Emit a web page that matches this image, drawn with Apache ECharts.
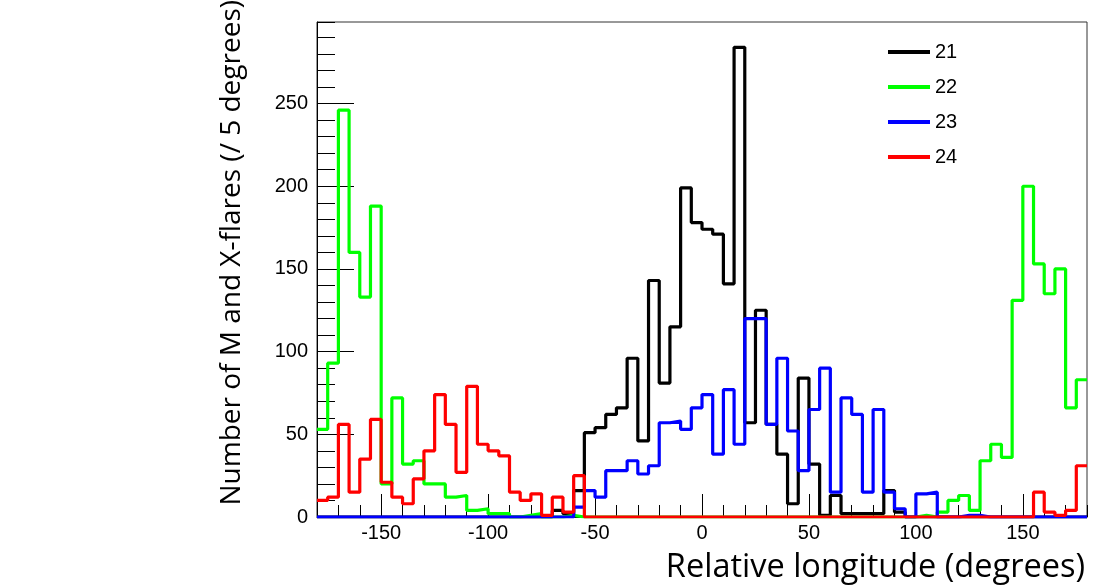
<!DOCTYPE html>
<html>
<head>
<meta charset="utf-8">
<script src="https://cdn.jsdelivr.net/npm/echarts@6/dist/echarts.min.js"></script>
<style>
  html, body { margin: 0; padding: 0; background: #fff; }
  #main { width: 1095px; height: 588px; }
</style>
</head>
<body>
<div id="main"></div>
<script>
// histogram bins: 72 bins of 5 degrees from -180 to 180
var binStart = -180;
var binWidth = 5;
var cycleNames = ['21', '22', '23', '24'];
var cycleColors = ['#000000', '#00ff00', '#0000ff', '#ff0000'];

// cycle 21
var c21 = [0, 0, 0, 0, 0, 0, 0, 0, 0, 0, 0, 0,
           0, 0, 0, 0, 0, 0, 0, 0, 0, 0, 4, 2,
           16, 51, 54, 62, 66, 96, 46, 143, 81, 115, 199, 178,
           174, 171, 141, 284, 57, 125, 56, 38, 8, 84, 32, 1,
           13, 2, 2, 2, 2, 16, 3, 0, 0, 0, 0, 0,
           0, 0, 0, 0, 0, 0, 0, 0, 0, 0, 0, 0];
// cycle 22
var c22 = [53, 93, 246, 160, 133, 188, 20, 72, 32, 34, 20, 20,
           12, 13, 4, 5, 2, 2, 0, 1, 2, 0, 0, 1,
           0, 0, 0, 0, 0, 0, 0, 0, 0, 0, 0, 0,
           0, 0, 0, 0, 0, 0, 0, 0, 0, 0, 0, 0,
           0, 0, 0, 0, 0, 0, 0, 0, 1, 0, 3, 10,
           13, 4, 34, 44, 36, 131, 200, 153, 135, 150, 66, 83];
// cycle 23
var c23 = [0, 0, 0, 0, 0, 0, 0, 0, 0, 0, 0, 0,
           0, 0, 0, 0, 0, 0, 0, 0, 0, 0, 0, 0,
           6, 16, 12, 28, 28, 34, 26, 31, 57, 58, 53, 66,
           74, 38, 77, 44, 120, 120, 56, 96, 52, 28, 65, 90,
           15, 72, 62, 15, 65, 15, 5, 0, 14, 15, 0, 0,
           1, 1, 0, 0, 0, 0, 0, 0, 0, 0, 0, 0];
// cycle 24
var c24 = [10, 12, 56, 15, 35, 59, 21, 12, 8, 23, 40, 74,
           56, 27, 79, 44, 40, 37, 15, 10, 14, 1, 12, 3,
           25, 0, 0, 0, 0, 0, 0, 0, 0, 0, 0, 0,
           0, 0, 0, 0, 0, 0, 0, 0, 0, 0, 0, 0,
           0, 0, 0, 0, 0, 0, 0, 0, 0, 0, 0, 0,
           0, 0, 0, 0, 0, 0, 0, 15, 3, 1, 4, 31];

var xTicks = [-150, -100, -50, 0, 50, 100, 150];
var yTop = 299.3;

// bin edges -> step line points
function toSteps(vals) {
    var pts = [];
    for (var i = 0; i < vals.length; i++) {
        pts.push([binStart + i * binWidth, vals[i]]);
    }
    pts.push([binStart + vals.length * binWidth, vals[vals.length - 1]]);
    return pts;
}

var allData = [c21, c22, c23, c24];
var series = [];
for (var s = 0; s < allData.length; s++) {
    series.push({
        name: cycleNames[s],
        type: 'line',
        step: 'end',
        symbol: 'none',
        xAxisIndex: 0,
        yAxisIndex: 0,
        data: toSteps(allData[s]),
        lineStyle: { color: cycleColors[s], width: 3.2 },
        itemStyle: { color: cycleColors[s] },
        z: 2 + s
    });
}

var myChart = echarts.init(document.getElementById('main'));
var tickFont = { fontFamily: 'Liberation Sans', fontSize: 20, color: '#000' };

myChart.setOption({
    animation: false,
    backgroundColor: '#fff',
    grid: {
        left: 317, right: 8, top: 22, bottom: 71,
        show: true, borderColor: '#333', borderWidth: 1
    },
    legend: {
        orient: 'vertical',
        left: 883, top: 37,
        icon: 'rect',
        itemWidth: 42, itemHeight: 4, itemGap: 15,
        textStyle: tickFont,
        data: cycleNames
    },
    xAxis: [{
        type: 'value', min: -180, max: 180,
        axisLine: { onZero: false, lineStyle: { color: '#000', width: 1 } },
        axisTick: { inside: true, length: 23, lineStyle: { color: '#000' }, customValues: xTicks },
        axisLabel: Object.assign({ margin: 6, customValues: xTicks }, tickFont),
        splitLine: { show: false }
    }, {
        // minor ticks every 10 degrees
        type: 'value', min: -180, max: 180, interval: 10, position: 'bottom',
        axisLine: { show: false, onZero: false },
        axisTick: { inside: true, length: 12, lineStyle: { color: '#000' } },
        axisLabel: { show: false },
        splitLine: { show: false }
    }],
    yAxis: [{
        type: 'value', min: 0, max: yTop, interval: 50, position: 'left',
        axisLine: { show: true, onZero: false, lineStyle: { color: '#000', width: 1 } },
        axisTick: { show: true, inside: true, length: 37, lineStyle: { color: '#000' } },
        axisLabel: Object.assign({ margin: 9, showMaxLabel: false }, tickFont),
        splitLine: { show: false }
    }, {
        type: 'value', min: 0, max: yTop, interval: 10, position: 'left',
        axisLine: { show: false, onZero: false },
        axisTick: { show: true, inside: true, length: 18, lineStyle: { color: '#000' } },
        axisLabel: { show: false },
        splitLine: { show: false }
    }],
    graphic: [{
        type: 'text', right: 10, top: 551,
        style: { text: 'Relative longitude (degrees)', font: '32.5px "Open Sans"', fill: '#000' }
    }, {
        type: 'text', x: 232, y: 0, rotation: Math.PI / 2,
        style: { text: 'Number of M and X-flares (/ 5 degrees)', font: '28px "Open Sans"', fill: '#000',
                 align: 'right', verticalAlign: 'middle' }
    }],
    series: series
});
</script>
</body>
</html>
